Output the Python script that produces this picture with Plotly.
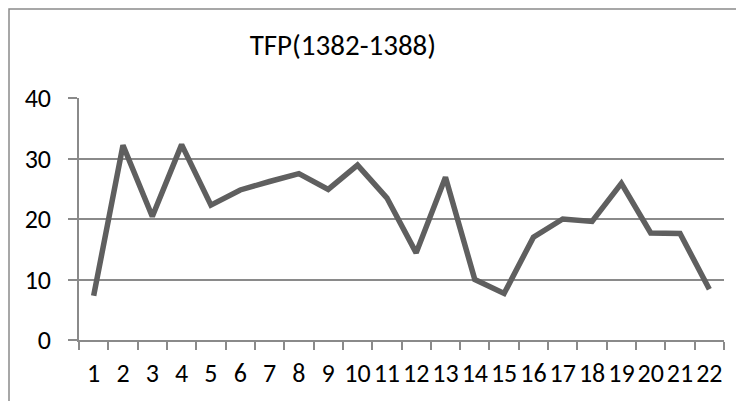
import plotly.graph_objects as go

categories = [str(i) for i in range(1, 23)]
tfp = [7.3, 32.2, 20.4, 32.3, 22.3, 24.8, 26.2, 27.5, 24.9, 28.9, 23.5,
       14.4, 26.9, 10.0, 7.7, 17.0, 20.0, 19.6, 25.9, 17.7, 17.6, 8.4]
title_text = "TFP(1382-1388)"
y_ticks = [0, 10, 20, 30, 40]

FONT = "Calibri, Carlito, Lato, sans-serif"
GRID = "#8a8a8a"

fig = go.Figure()
fig.add_trace(go.Scatter(
    x=categories, y=tfp, mode="lines",
    line=dict(color="#5f5f5f", width=5.5),
    hoverinfo="skip", showlegend=False,
))

# page body has an 8px margin, so the figure is 8px smaller than the window
fig.update_layout(
    width=736, height=393,
    margin=dict(l=71, r=20, t=90, b=61, autoexpand=False),
    paper_bgcolor="white", plot_bgcolor="white",
    font=dict(family=FONT, size=26, color="black"),
    title=dict(text=title_text, xref="container", yref="container",
               x=0.455, xanchor="center", y=0.906, yanchor="middle",
               font=dict(family=FONT, size=29, color="black")),
    xaxis=dict(type="category", tickson="boundaries", ticks="outside",
               range=[-0.5, 21.5], tickmode="array", tickvals=categories,
               ticktext=categories, tickangle=0, automargin=False,
               ticklen=8, tickwidth=1.5, tickcolor=GRID,
               showline=True, linecolor=GRID, linewidth=1.5,
               showgrid=False, zeroline=False, ticklabelstandoff=9,
               tickfont=dict(family=FONT, size=26)),
    yaxis=dict(range=[0, 40], tickvals=y_ticks, ticks="outside",
               automargin=False,
               ticklen=9, tickwidth=1.5, tickcolor=GRID,
               showline=True, linecolor=GRID, linewidth=1.5,
               showgrid=True, gridcolor=GRID, gridwidth=1.5,
               zeroline=False, ticklabelstandoff=12,
               tickfont=dict(family=FONT, size=26)),
    shapes=[dict(type="rect", xref="paper", yref="paper",
                 x0=(9 - 79) / 645, x1=1.2, y0=-0.5, y1=1 + (98 - 9) / 242,
                 line=dict(color="#8a8a8a", width=1.5), layer="below")],
)

fig.write_html("out.html")
